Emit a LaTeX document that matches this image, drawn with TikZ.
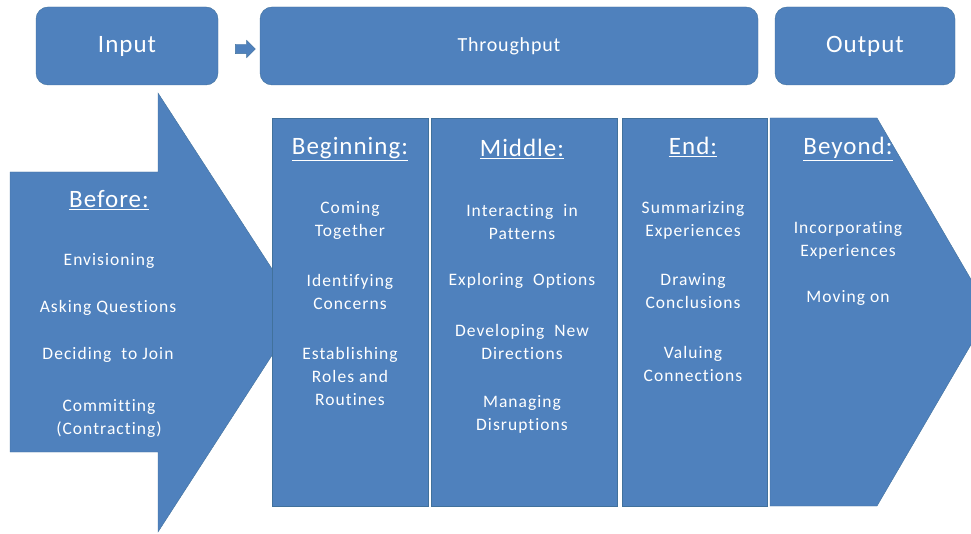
\documentclass[tikz,border=0pt]{standalone}
\usepackage{fontspec}
\setmainfont{Carlito}[Ligatures=NoCommon]
\newfontfamily\widefont{Carlito}[LetterSpace=6, Ligatures=NoCommon]
\newfontfamily\topfont{Carlito}[LetterSpace=4, Ligatures=NoCommon]
\usetikzlibrary{positioning, shapes.arrows}
\definecolor{officeblue}{HTML}{4F81BD}
\definecolor{edgeblue}{HTML}{41719C}
\tikzset{
  topbox/.style={
    draw=edgeblue,
    fill=officeblue,
    rounded corners=12pt,
    minimum height=78pt,
    text=white,
    font=\topfont\fontsize{25}{29}\selectfont
  },
  column/.style={
    draw=edgeblue,
    fill=officeblue,
    rectangle,
    minimum height=388pt,
    anchor=north west,
    inner sep=0pt
  },
  head/.style={
    text=white,
    font=\topfont\fontsize{25}{29}\selectfont
  },
  item/.style={
    text=white,
    align=center,
    font=\widefont\fontsize{17.5}{23}\selectfont
  }
}

\begin{document}
\begin{tikzpicture}[x=1pt, y=-1pt]
    \useasboundingbox (0,0) rectangle (971,534);
    \clip (0,0) rectangle (971,534);

    % top row
    \node[topbox, minimum width=182pt] (input) at (127,46) {Input};
    \node[topbox, minimum width=498pt, font=\topfont\fontsize{20}{24}\selectfont] (through) at (509,46) {Throughput};
    \node[topbox, minimum width=180pt] (output) at (865,46) {Output};
    \node[single arrow, draw=edgeblue, fill=officeblue, inner sep=4.5pt,
          single arrow head extend=4pt, minimum height=20pt] (step1) at (243,49) {};

    % before arrow
    \fill[officeblue, draw=edgeblue] (10,172) -- (158,172) -- (158,93) -- (300,312)
        -- (158,532) -- (158,452) -- (10,452) -- cycle;
    \node[head] (before) at (109,200) {\underline{Before:}};
    \node[item] (b1) at (109,261) {Envisioning};
    \node[item] (b2) at (108,308) {Asking Questions};
    \node[item] (b3) at (108,355) {Deciding~ to Join};
    \node[item] (b4) at (109,418) {Committing\\(Contracting)};

    % columns
    \node[column, minimum width=156pt] (colbeg) at (272,118) {};
    \node[column, minimum width=186pt] (colmid) at (431,118) {};
    \node[column, minimum width=145pt] (colend) at (622,118) {};
    \fill[officeblue, draw=edgeblue] (770,118) -- (877,118) -- (990,312)
        -- (877,506) -- (770,506) -- cycle;

    \node[head] (beg) at (350,149) {\underline{Beginning:}};
    \node[item] (g1) at (350,220) {Coming\\Together};
    \node[item] (g2) at (350,292) {Identifying\\Concerns};
    \node[item] (g3) at (350,376) {Establishing\\Roles and\\Routines};

    \node[head] (mid) at (522,149) {\underline{Middle:}};
    \node[item] (m1) at (522,222) {Interacting~ in\\Patterns};
    \node[item] (m2) at (522,281) {Exploring~ Options};
    \node[item] (m3) at (522,342) {Developing~ New\\Directions};
    \node[item] (m4) at (522,414) {Managing\\Disruptions};

    \node[head] (endh) at (693,147) {\underline{End:}};
    \node[item] (e1) at (693,220) {Summarizing\\Experiences};
    \node[item] (e2) at (693,291) {Drawing\\Conclusions};
    \node[item] (e3) at (693,364) {Valuing\\Connections};

    \node[head] (beyond) at (848,149) {\underline{Beyond:}};
    \node[item] (y1) at (848,240) {Incorporating\\Experiences};
    \node[item] (y2) at (848,298) {Moving on};
\end{tikzpicture}
\end{document}
